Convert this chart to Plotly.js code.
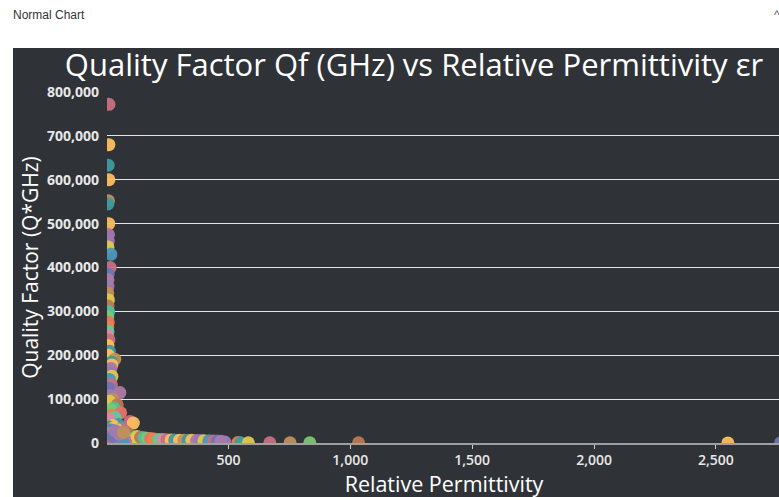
<!DOCTYPE html>
<html>
<head>
<meta charset="utf-8">
<script src="https://cdn.plot.ly/plotly-3.0.1.min.js"></script>
<style>
  html, body { margin:0; padding:0; background:#ffffff; width:779px; height:497px; overflow:hidden; }
  #hdr { position:absolute; left:13px; top:8px; font:12px "Liberation Sans", Arial, sans-serif; color:#333; }
  #caret { position:absolute; left:774px; top:8px; font:12px "Liberation Sans", Arial, sans-serif; color:#666; }
  #chart { position:absolute; left:13px; top:48px; width:802px; height:460px; }
</style>
</head>
<body>
<div id="hdr">Normal Chart</div>
<div id="caret">^</div>
<div id="chart"></div>
<script>
// Relative permittivity (x) and quality factor Q*GHz (y)
const permittivity = [
  10, 9.8, 7, 10, 8, 6, 9.5, 8, 7, 6, 18, 15, 7, 6, 6, 5, 8, 6, 9, 5,
  7, 5, 6, 4, 10, 6, 12, 8, 34, 20, 22, 18, 15, 22, 12, 20, 10, 55, 15, 25,
  12, 44, 30, 18, 58, 20, 35, 10, 96, 110, 48, 25,
  5, 12, 30, 60, 8, 45, 20, 75, 15, 38, 3, 55, 25, 90, 10, 68, 40, 18, 80, 32,
  6, 50, 100, 22, 65, 12, 85, 42, 28, 4, 58, 110, 16, 72, 35, 95, 8, 48, 120, 26,
  62, 14, 82, 38, 5, 105, 55, 20, 75, 30, 10, 90, 45, 130, 65, 18, 25, 52, 35, 70,
  125, 140, 154, 168, 181, 195, 215, 232, 248, 265, 280, 300, 318, 335, 350, 370,
  385, 400, 420, 440, 455, 470, 486, 540, 551, 582, 670, 753, 834, 1034, 2549, 2765
];
const qualityFactor = [
  772000, 680000, 633000, 600000, 552000, 545000, 500000, 475000, 460000, 447000,
  430000, 400000, 385000, 372000, 357000, 342000, 326000, 312000, 299000, 287000,
  275000, 265000, 254000, 245000, 235000, 222000, 209000, 200000, 191000, 184000,
  178000, 170000, 162000, 152000, 145000, 133000, 125000, 115000, 108000, 100000,
  95000, 87000, 80000, 76000, 69000, 63000, 58000, 55000, 49000, 45500, 42000, 40000,
  38000, 36000, 35000, 33000, 31000, 30000, 29000, 27000, 26000, 25000, 24000, 23000,
  22000, 21000, 20000, 19000, 18000, 17000, 16000, 15000, 14000, 13500, 13000, 12500,
  12000, 11500, 11000, 10500, 10000, 9500, 9000, 8800, 8500, 8000, 7500, 7200,
  7000, 6500, 6200, 6000, 5500, 5000, 4800, 4500, 4000, 3800, 3500, 3000,
  2800, 2500, 2000, 1800, 1500, 1200, 1000, 800, 15000, 20000, 28000, 24000,
  15000, 13000, 12000, 11000, 10000, 9000, 8000, 8000, 7500, 7000, 7000, 6500,
  6500, 6000, 6000, 5500, 5500, 5000, 5000, 4500, 4500, 4000, 2000, 1200,
  600, 500, 300, 300, 300, 300, 200, 200
];
const xTitle = 'Relative Permittivity';
const yTitle = 'Quality Factor (Q*GHz)';
const chartTitle = 'Quality Factor Qf (GHz) vs Relative Permittivity εr';

// styling
const palette = ['#c8707f', '#fbbf5f', '#3f9aa0', '#fdbf5f', '#c0905a', '#3a9a9a',
  '#f9bd5c', '#a878a8', '#9c78b0', '#e0c850', '#4a98b8', '#c8707f', '#6e75b5',
  '#b07aa8', '#a07ab0', '#c0905a', '#e0c850', '#b87a50', '#4ec0a0', '#78c870',
  '#e8736c', '#e98543', '#5ec8a5', '#d98ba0'];
const tailColors = ['#e98543', '#3f9aa0', '#e0c850', '#c8707f', '#c0905a', '#78c870',
  '#b87a50', '#fbbf5f', '#6e75b5'];
const colors = permittivity.map((_, i) => {
  const t = i - (permittivity.length - tailColors.length);
  return t >= 0 ? tailColors[t] : palette[i % palette.length];
});

const trace = {
  type: 'scatter', mode: 'markers',
  x: permittivity, y: qualityFactor,
  marker: { size: 13, color: colors, opacity: 0.95, line: { width: 0 } },
  cliponaxis: true, hoverinfo: 'x+y'
};

const layout = {
  width: 802, height: 460,
  paper_bgcolor: '#2f3337', plot_bgcolor: '#2f3337',
  margin: { l: 94, r: 34, t: 44, b: 65 },
  font: { family: '"Open Sans", sans-serif', color: '#ffffff' },
  title: { text: chartTitle, font: { size: 31, color: '#ffffff', family: '"Open Sans", sans-serif' },
           x: 0.5, xref: 'container', xanchor: 'center', y: 0.962, yref: 'container', yanchor: 'middle' },
  showlegend: false,
  xaxis: {
    range: [2, 2767], dtick: 500, tickformat: ',d', automargin: true,
    showgrid: false, zeroline: false, showline: true, linecolor: '#a0a0a0', linewidth: 1.5,
    ticks: 'outside', ticklen: 4, tickcolor: '#cccccc',
    tickfont: { size: 14, color: '#e8e8e8', weight: 600 },
    title: { text: xTitle, font: { size: 21.5, color: '#ffffff' }, standoff: 2 }
  },
  yaxis: {
    range: [0, 800000], dtick: 100000, tickformat: ',d', automargin: true,
    showgrid: true, gridcolor: '#e6e6e6', gridwidth: 1, zeroline: false, showline: false,
    ticks: '', ticklabelstandoff: 7,
    tickfont: { size: 14, color: '#e8e8e8', weight: 700 },
    title: { text: yTitle, font: { size: 21, color: '#ffffff' }, standoff: 2 }
  }
};

Plotly.newPlot('chart', [trace], layout, { displayModeBar: false, staticPlot: true });
</script>
</body>
</html>
